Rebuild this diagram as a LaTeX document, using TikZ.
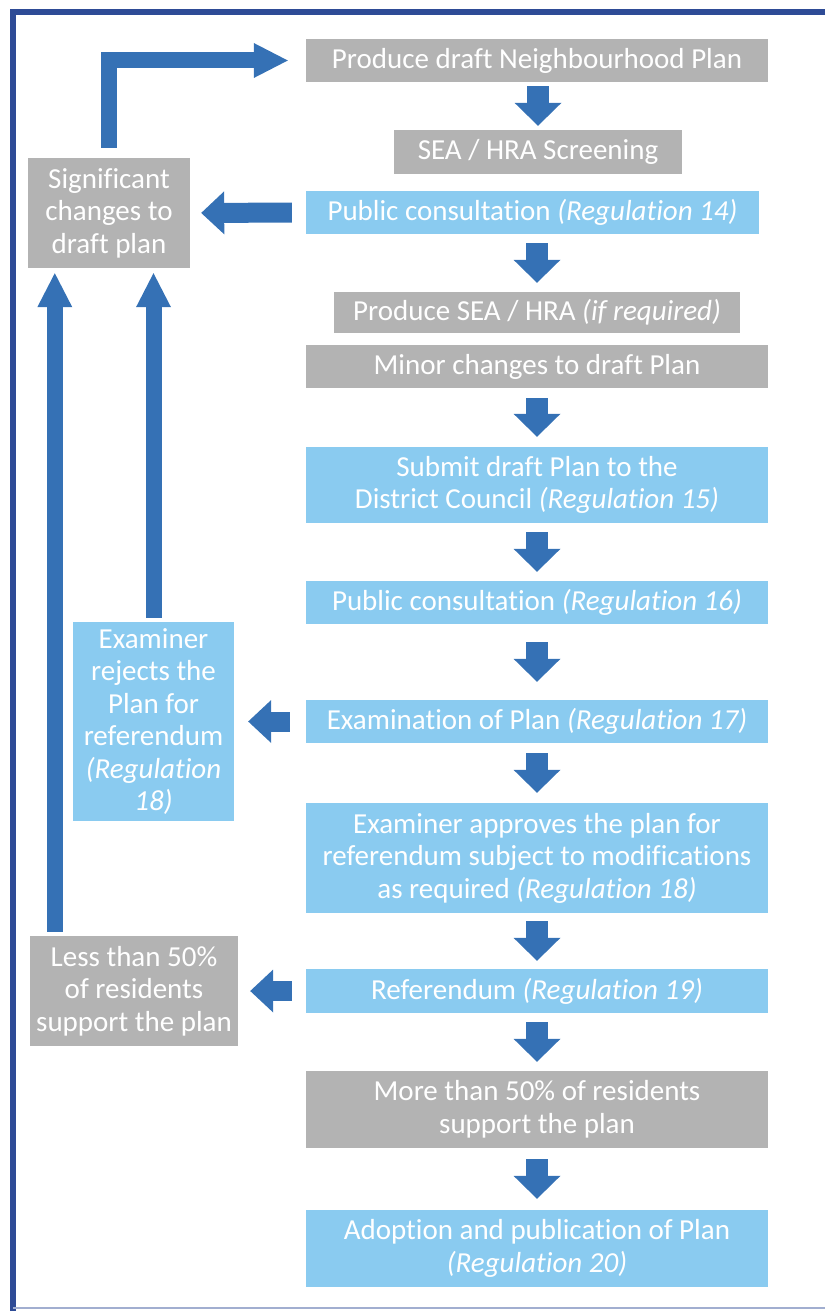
\documentclass[tikz,border=0pt]{standalone}
\usepackage{fontspec}
\setmainfont{Carlito}[RawFeature={-liga}]
\usepackage{tikz}
\usetikzlibrary{arrows.meta}

\definecolor{boxgray}{RGB}{179,179,179}
\definecolor{boxblue}{RGB}{138,203,240}
\definecolor{arrowblue}{RGB}{53,113,181}
\definecolor{frameblue}{RGB}{46,75,150}

\begin{document}
\begin{tikzpicture}[
  x=1pt, y=-1pt,
  every node/.style={font=\fontsize{29}{32.5}\selectfont, text=white},
  stage/.style={align=center, inner sep=0pt, minimum height=43pt, minimum width=462pt},
  grey/.style={stage, fill=boxgray},
  blue/.style={stage, fill=boxblue},
  down/.style={draw=arrowblue, line width=22pt, -{Triangle[length=23pt,width=47pt,line width=0pt]}},
  side/.style={draw=arrowblue, line width=20pt, -{Triangle[length=23pt,width=43pt,line width=0pt]}},
  up/.style={draw=arrowblue, line width=16pt, -{Triangle[length=34pt,width=35pt,line width=0pt]}}
]
  \useasboundingbox (0,0) rectangle (825,1311);
  % frame
  \draw[frameblue, line width=6pt] (825,12) -- (13,12) -- (13,1311);
  \draw[frameblue!45, line width=1.5pt] (13,1308) -- (825,1308);

  % main column
  \node[grey] (prod)  at (537,60.5)  {Produce draft Neighbourhood Plan};
  \node[grey, minimum width=288pt, minimum height=44pt] (scr) at (538,152) {SEA / HRA Screening};
  \node[blue, minimum width=453pt] (pc14) at (532.5,212.5) {Public consultation \textit{(Regulation 14)}};
  \node[grey, minimum width=406pt, minimum height=41pt] (sea) at (537,312.5) {Produce SEA / HRA \textit{(if required)}};
  \node[grey] (minor) at (537,366.5) {Minor changes to draft Plan};
  \node[blue, minimum height=76pt] (sub) at (537,485) {Submit draft Plan to the\\District Council \textit{(Regulation 15)}};
  \node[blue] (pc16)  at (537,602.5) {Public consultation \textit{(Regulation 16)}};
  \node[blue] (exam)  at (537,721.5) {Examination of Plan \textit{(Regulation 17)}};
  \node[blue, minimum height=110pt] (appr) at (537,858) {Examiner approves the plan for\\referendum subject to modifications\\as required \textit{(Regulation 18)}};
  \node[blue, minimum height=44pt] (ref) at (537,991) {Referendum \textit{(Regulation 19)}};
  \node[grey, minimum height=77pt] (more) at (537,1109.5) {More than 50\% of residents\\support the plan};
  \node[blue, minimum height=77pt] (adopt) at (537,1248.5) {Adoption and publication of Plan\\\textit{(Regulation 20)}};

  % side boxes
  \node[grey, minimum width=162pt, minimum height=110pt] (sig) at (109,213) {Significant\\changes to\\draft plan};
  \node[blue, minimum width=161pt, minimum height=199pt] (exr) at (153.5,721.5) {Examiner\\rejects the\\Plan for\\referendum\\\textit{(Regulation}\\\textit{18)}};
  \node[grey, minimum width=208pt, minimum height=110pt] (less) at (134,991) {Less than 50\%\\of residents\\support the plan};

  % downward arrows
  \foreach \a/\b/\s in {prod/scr/4, pc14/sea/9, minor/sub/10, sub/pc16/9, pc16/exam/18,
                        exam/appr/10, appr/ref/8, ref/more/9, more/adopt/11}
    \draw[down, shorten <=\s pt, shorten >=\s pt] (\a.south -| \b.north) -- (\b.north);

  % arrows to the left
  \draw[side, shorten <=14pt, shorten >=11pt] (pc14.west) -- (sig.east);
  \draw[side, shorten <=16pt, shorten >=14pt] (exam.west) -- (exr.east);
  \draw[side, shorten <=14pt, shorten >=12pt] (ref.west) -- (less.east);

  % arrows back up
  \coordinate (lup) at ([xshift=25pt]less.north west);
  \draw[up, shorten <=4pt, shorten >=5pt] (exr.north) -- (exr.north |- sig.south);
  \draw[up, shorten <=4pt, shorten >=5pt] (lup) -- (lup |- sig.south);
  \draw[up, line join=miter, shorten <=10pt, shorten >=18pt] (sig.north) |- (prod.west);
\end{tikzpicture}
\end{document}
